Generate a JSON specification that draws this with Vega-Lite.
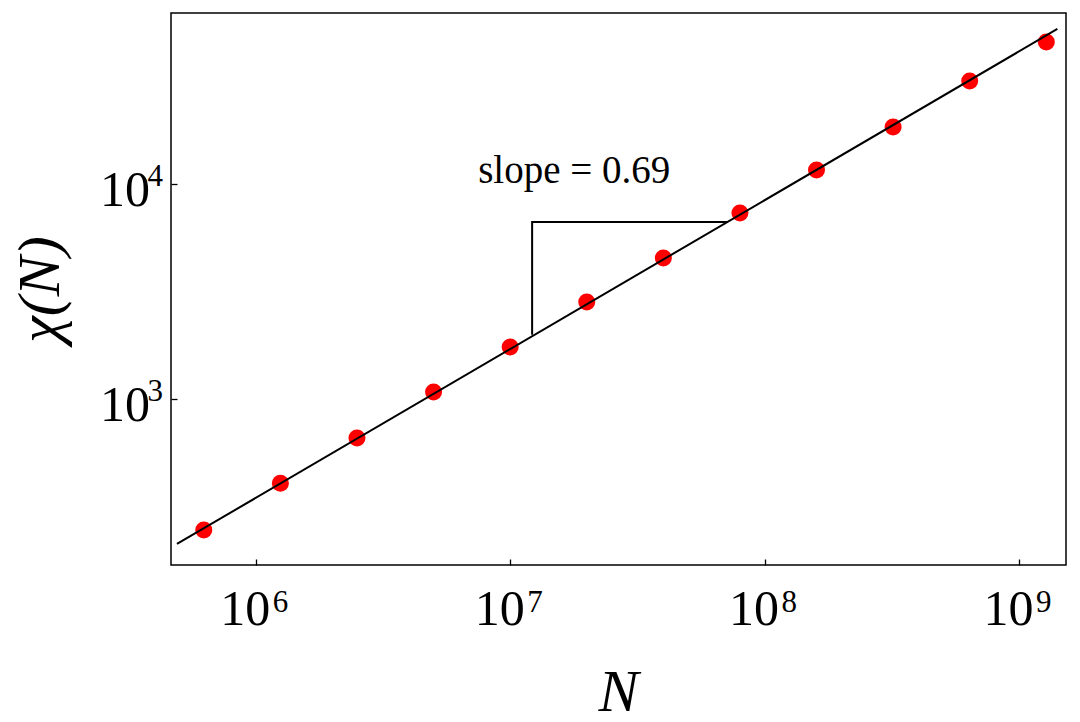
{
  "$schema": "https://vega.github.io/schema/vega-lite/v6.json",
  "autosize": {"type": "none"},
  "width": 895,
  "height": 552,
  "padding": {"left": 171, "top": 13, "right": 14, "bottom": 157},
  "background": "white",
  "config": {
    "font": "Liberation Serif",
    "view": {"stroke": "black", "strokeWidth": 1.5},
    "axis": {"grid": false, "domain": false, "labelColor": "black", "labelFlush": false, "labelOverlap": false, "labelBound": false}
  },
  "data": {
    "values": [
      {"kind": "data", "N": 625000, "chi": 246, "o": 0},
      {"kind": "data", "N": 1250000, "chi": 406, "o": 0},
      {"kind": "data", "N": 2500000, "chi": 659, "o": 0},
      {"kind": "data", "N": 5000000, "chi": 1078, "o": 0},
      {"kind": "data", "N": 10000000, "chi": 1746, "o": 0},
      {"kind": "data", "N": 20000000, "chi": 2825, "o": 0},
      {"kind": "data", "N": 40000000, "chi": 4530, "o": 0},
      {"kind": "data", "N": 80000000, "chi": 7330, "o": 0},
      {"kind": "data", "N": 160000000, "chi": 11610, "o": 0},
      {"kind": "data", "N": 320000000, "chi": 18420, "o": 0},
      {"kind": "data", "N": 640000000, "chi": 30140, "o": 0},
      {"kind": "data", "N": 1280000000, "chi": 45700, "o": 0},
      {"kind": "fit", "N": 490300, "chi": 211.7, "o": 0},
      {"kind": "fit", "N": 1415000000, "chi": 52600, "o": 1},
      {"kind": "tri", "N": 12200000, "chi": 1987, "o": 0},
      {"kind": "tri", "N": 12200000, "chi": 6650, "o": 1},
      {"kind": "tri", "N": 71540000, "chi": 6650, "o": 2},
      {"kind": "label", "N": 17850000, "chi": 10110, "o": 0, "text": "slope = 0.69"}
    ]
  },
  "resolve": {"axis": {"x": "independent", "y": "independent"}},
  "layer": [
    {
      "transform": [{"filter": "datum.kind == 'data'"}],
      "mark": {"type": "circle", "color": "#ff0000", "opacity": 1, "size": 290},
      "encoding": {
        "x": {
          "field": "N", "type": "quantitative",
          "scale": {"type": "log", "domain": [464500, 1530000000], "nice": false, "zero": false},
          "axis": {
            "orient": "bottom",
            "title": "N",
            "values": [1000000, 10000000, 100000000, 1000000000],
            "labelExpr": "'10'",
            "labelFontSize": 50,
            "labelPadding": 65,
            "labelBaseline": "alphabetic",
            "labelAlign": "right",
            "labelOffset": 14,
            "tickSize": -6,
            "tickColor": "black",
            "tickWidth": 1.3,
            "titleFontSize": 60,
            "titleFontStyle": "italic",
            "titleFontWeight": "normal",
            "titleColor": "black",
            "titleBaseline": "alphabetic",
            "titleY": 145,
            "titleX": 447,
            "titleAnchor": "middle"
          }
        },
        "y": {
          "field": "chi", "type": "quantitative",
          "scale": {"type": "log", "domain": [169, 62400], "nice": false, "zero": false},
          "axis": {
            "orient": "left",
            "title": "χ(N)",
            "values": [1000, 10000],
            "labelExpr": "'10'",
            "labelFontSize": 50,
            "labelPadding": 27.5,
            "labelAlign": "right",
            "labelBaseline": "alphabetic",
            "labelOffset": 21.5,
            "tickSize": -6,
            "tickColor": "black",
            "tickWidth": 1.3,
            "titleFontSize": 60,
            "titleFontStyle": "italic",
            "titleFontWeight": "normal",
            "titleColor": "black",
            "titleAngle": 270,
            "titleAlign": "center",
            "titleBaseline": "alphabetic",
            "titleX": -113,
            "titleY": 276
          }
        }
      }
    },
    {
      "transform": [{"filter": "datum.kind == 'fit'"}],
      "mark": {"type": "line", "color": "black", "strokeWidth": 2},
      "encoding": {
        "x": {
          "field": "N", "type": "quantitative",
          "scale": {"type": "log", "domain": [464500, 1530000000], "nice": false, "zero": false},
          "axis": {
            "orient": "bottom",
            "title": null,
            "ticks": false,
            "values": [1000000, 10000000, 100000000, 1000000000],
            "labelExpr": "datum.value == 1000000 ? '6' : datum.value == 10000000 ? '7' : datum.value == 100000000 ? '8' : '9'",
            "labelFontSize": 31,
            "labelPadding": 46,
            "labelBaseline": "alphabetic",
            "labelAlign": "left",
            "labelOffset": 16.5
          }
        },
        "y": {
          "field": "chi", "type": "quantitative",
          "scale": {"type": "log", "domain": [169, 62400], "nice": false, "zero": false},
          "axis": {
            "orient": "left",
            "title": null,
            "ticks": false,
            "values": [1000, 10000],
            "labelExpr": "datum.value == 1000 ? '3' : '4'",
            "labelFontSize": 31,
            "labelPadding": 8.5,
            "labelAlign": "right",
            "labelBaseline": "alphabetic",
            "labelOffset": 1.5
          }
        },
        "order": {"field": "o", "type": "quantitative"}
      }
    },
    {
      "transform": [{"filter": "datum.kind == 'tri'"}],
      "mark": {"type": "line", "color": "black", "strokeWidth": 2},
      "encoding": {
        "x": {"field": "N", "type": "quantitative", "scale": {"type": "log", "domain": [464500, 1530000000], "nice": false, "zero": false}, "axis": null},
        "y": {"field": "chi", "type": "quantitative", "scale": {"type": "log", "domain": [169, 62400], "nice": false, "zero": false}, "axis": null},
        "order": {"field": "o", "type": "quantitative"}
      }
    },
    {
      "transform": [{"filter": "datum.kind == 'label'"}],
      "mark": {"type": "text", "fontSize": 39, "align": "center", "baseline": "alphabetic", "color": "black"},
      "encoding": {
        "x": {"field": "N", "type": "quantitative", "scale": {"type": "log", "domain": [464500, 1530000000], "nice": false, "zero": false}, "axis": null},
        "y": {"field": "chi", "type": "quantitative", "scale": {"type": "log", "domain": [169, 62400], "nice": false, "zero": false}, "axis": null},
        "text": {"field": "text", "type": "nominal"}
      }
    }
  ]
}
